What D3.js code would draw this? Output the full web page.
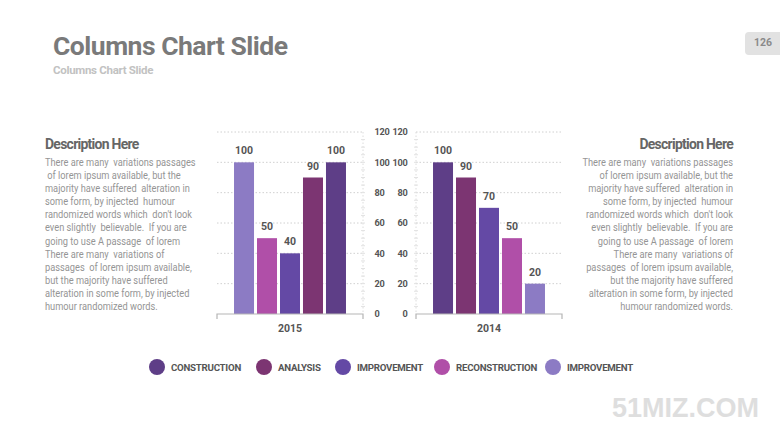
<!DOCTYPE html>
<html><head><meta charset="utf-8">
<script src="https://cdn.jsdelivr.net/npm/d3@7/dist/d3.min.js"></script>
<style>
html,body{margin:0;padding:0;background:#fff;}
svg{display:block;font-family:Roboto, "Noto Sans", sans-serif;}
</style></head>
<body><svg id="c" width="780" height="439"></svg>
<script>
// ---------- data ----------
const seriesNames = ["CONSTRUCTION","ANALYSIS","IMPROVEMENT","RECONSTRUCTION","IMPROVEMENT"];
const seriesColors = ["#5E3E87","#7C3572","#6449A5","#B04FA8","#8C7BC4"];
const categories = ["2015","2014"];
const values2015 = [100,90,40,50,100];   // drawn in reverse series order
const values2014 = [100,90,70,50,20];
const yTicks = [0,20,40,60,80,100,120];
const bodyLines = [
 "There are many  variations passages",
 " of lorem ipsum available, but the",
 "majority have suffered  alteration in",
 "some form, by injected  humour",
 "randomized words which  don't look",
 "even slightly  believable.  If you are",
 "going to use A passage  of lorem",
 "There are many  variations of",
 "passages  of lorem ipsum available,",
 "but the majority have suffered",
 "alteration in some form, by injected",
 "humour randomized words."
];

const svg = d3.select("#c");

// ---------- header ----------
svg.append("text").attr("x",53).attr("y",55).attr("font-size",26.5).attr("font-weight",700)
  .attr("fill","#7a7a7a").attr("letter-spacing",-0.5).text("Columns Chart Slide");
svg.append("text").attr("x",53).attr("y",74).attr("font-size",11.5).attr("font-weight",700)
  .attr("fill","#c2c2c2").attr("letter-spacing",-0.3).text("Columns Chart Slide");
svg.append("rect").attr("x",745).attr("y",32).attr("width",45).attr("height",23).attr("rx",4).attr("fill","#e2e2e2");
svg.append("text").attr("x",763).attr("y",46).attr("text-anchor","middle").attr("font-size",10.5)
  .attr("font-weight",700).attr("fill","#8a8a8a").text("126");

// ---------- descriptions ----------
function description(xAnchor, anchor){
  const sx = 0.9;
  const g = svg.append("g").attr("transform",`translate(${xAnchor},0) scale(${sx},1)`);
  g.append("text").attr("x",0).attr("y",149).attr("text-anchor",anchor).attr("font-size",15.5)
    .attr("font-weight",700).attr("fill","#666").attr("letter-spacing",-0.8).text("Description Here");
  g.selectAll("text.b").data(bodyLines).join("text").attr("class","b")
    .attr("x",0).attr("y",(d,i)=>166+i*13.1).attr("text-anchor",anchor)
    .attr("font-size",10.3).attr("fill","#959595").attr("xml:space","preserve")
    .style("white-space","pre").text(d=>d);
}
description(45,"start");
description(733,"end");

// ---------- charts ----------
const y = d3.scaleLinear().domain([0,120]).range([314,132]);

function chart(x0, x1, cat, vals, order, axisSide){
  const xc = d3.scaleBand().domain([cat]).range([x0,x1]).paddingOuter(0.152);
  const xs = d3.scaleBand().domain(order).range([xc(cat), xc(cat)+xc.bandwidth()]).paddingInner(0.13);
  const g = svg.append("g");
  // grid
  g.selectAll("line.grid").data(yTicks.filter(t=>t>0)).join("line")
    .attr("x1",x0).attr("x2",x1).attr("y1",d=>y(d)).attr("y2",d=>y(d))
    .attr("stroke","#d0d0d0").attr("stroke-width",1).attr("stroke-dasharray","1.5,2");
  // vertical dotted axis line with minor ticks
  const ax = axisSide==="right" ? x1 : x0;
  g.append("line").attr("x1",ax).attr("x2",ax).attr("y1",y(120)).attr("y2",y(0))
    .attr("stroke","#dcdcdc").attr("stroke-dasharray","1.5,2");
  g.selectAll("line.minor").data(d3.range(5,120,5)).join("line")
    .attr("x1",ax-2).attr("x2",ax+2).attr("y1",d=>y(d)).attr("y2",d=>y(d)).attr("stroke","#e2e2e2");
  // bars
  g.selectAll("rect.bar").data(order).join("rect")
    .attr("x",i=>xs(i)).attr("width",xs.bandwidth())
    .attr("y",i=>y(vals[i])).attr("height",i=>y(0)-y(vals[i]))
    .attr("fill",i=>seriesColors[i]);
  g.selectAll("text.val").data(order).join("text")
    .attr("x",i=>xs(i)+xs.bandwidth()/2).attr("y",i=>y(vals[i])-8)
    .attr("text-anchor","middle").attr("font-size",10.5).attr("font-weight",700).attr("fill","#555")
    .text(i=>vals[i]);
  // category axis
  const xa = g.append("g").attr("transform",`translate(0,${y(0)})`)
    .call(d3.axisBottom(xc).tickSize(0).tickPadding(11));
  xa.select(".domain").remove();
  xa.selectAll("text").attr("font-size",10.5).attr("font-weight",700).attr("fill","#555")
    .attr("font-family","Roboto");
  g.append("path").attr("d",`M${x0},${y(0)+5}V${y(0)}H${x1}V${y(0)+5}`)
    .attr("fill","none").attr("stroke","#b5b5b5").attr("stroke-width",1.2);
  // value axis labels
  const axis = axisSide==="right" ? d3.axisRight(y) : d3.axisLeft(y);
  const va = g.append("g").attr("transform",`translate(${axisSide==="right"?x1:x0},0)`)
    .call(axis.tickValues(yTicks).tickSize(0).tickPadding(axisSide==="right"?11.5:8.5));
  va.select(".domain").remove();
  va.selectAll("text").attr("font-size",9.2).attr("font-weight",700).attr("fill","#555")
    .attr("letter-spacing",-0.3).attr("font-family","Roboto");
}
chart(217,363,categories[0],values2015,[4,3,2,1,0],"right");
chart(416,562,categories[1],values2014,[0,1,2,3,4],"left");

// ---------- legend ----------
const legendX = [157,264,343,442,553];
const lg = svg.append("g");
seriesNames.forEach((n,i)=>{
  lg.append("circle").attr("cx",legendX[i]).attr("cy",367).attr("r",8).attr("fill",seriesColors[i]);
  lg.append("text").attr("x",legendX[i]+14).attr("y",370.5).attr("font-size",9.7).attr("font-weight",700)
    .attr("fill","#555").attr("letter-spacing",-0.25).text(n);
});

// ---------- watermark ----------
svg.append("text").attr("x",612).attr("y",417).attr("font-family","Liberation Sans, Arial, sans-serif")
  .attr("font-size",27).attr("font-weight",700).attr("fill","#dedede").text("51MIZ.COM");
</script>
</body></html>
